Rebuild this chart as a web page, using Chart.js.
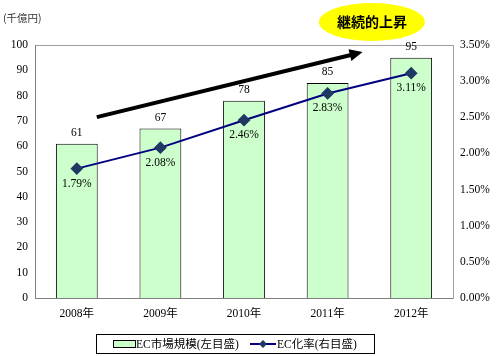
<!DOCTYPE html>
<html><head><meta charset="utf-8">
<script src="https://cdn.jsdelivr.net/npm/chart.js@4/dist/chart.umd.min.js"></script>
<style>html,body{margin:0;padding:0;background:#fff}#wrap{width:500px;height:356px;position:relative}</style>
</head><body><div id="wrap"><canvas id="c" width="500" height="356"></canvas></div>
<script>
const categories = ['2008年','2009年','2010年','2011年','2012年'];
const marketSize = [61, 67, 78, 85, 95];
const ecRate = [1.79, 2.08, 2.46, 2.83, 3.11];
const seriesNames = ['EC市場規模(左目盛)', 'EC化率(右目盛)'];
const unitLabel = '(千億円)';
const calloutText = '継続的上昇';

const FONT = "'Liberation Serif','Noto Sans CJK JP',serif";

const overlay = {
  id: 'overlay',
  afterDraw(chart) {
    const ctx = chart.ctx, x = chart.scales.x, y = chart.scales.y;
    const area = chart.chartArea;
    ctx.save();
    // plot border
    ctx.strokeStyle = '#a0a0a0'; ctx.lineWidth = 1;
    ctx.strokeRect(area.left + 0.5, area.top + 0.5, area.right - area.left, area.bottom - area.top);
    ctx.strokeStyle = '#808080';
    ctx.beginPath(); ctx.moveTo(area.left + 0.5, area.top); ctx.lineTo(area.left + 0.5, area.bottom + 0.5); ctx.lineTo(area.right, area.bottom + 0.5); ctx.stroke();

    // bar value labels
    ctx.font = '11.5px ' + FONT; ctx.fillStyle = '#000'; ctx.textAlign = 'center'; ctx.textBaseline = 'middle';
    const mBar = chart.getDatasetMeta(1);
    mBar.data.forEach((b, i) => { ctx.fillText(String(marketSize[i]), b.x, b.y - 11); });
    // rate labels
    const mLine = chart.getDatasetMeta(0);
    mLine.data.forEach((p, i) => { ctx.fillText(ecRate[i].toFixed(2) + '%', p.x, p.y + 15); });

    // unit label
    ctx.font = '10.5px "Noto Sans CJK JP",sans-serif'; ctx.textAlign = 'left';
    ctx.fillStyle = '#333';
    ctx.fillText(unitLabel, 3, 18);

    // arrow
    const ax0 = x.getPixelForValue(0) + 20, ay0 = y.getPixelForValue(71.5);
    const ax1 = x.getPixelForValue(3) + 35, ay1 = y.getPixelForValue(97.2);
    const ang = Math.atan2(ay1 - ay0, ax1 - ax0);
    ctx.strokeStyle = '#000'; ctx.lineWidth = 4; ctx.lineCap = 'butt';
    ctx.beginPath(); ctx.moveTo(ax0, ay0);
    ctx.lineTo(ax1 - 9 * Math.cos(ang), ay1 - 9 * Math.sin(ang)); ctx.stroke();
    ctx.fillStyle = '#000';
    ctx.beginPath();
    ctx.moveTo(ax1, ay1);
    ctx.lineTo(ax1 - 13 * Math.cos(ang) + 6 * Math.sin(ang), ay1 - 13 * Math.sin(ang) - 6 * Math.cos(ang));
    ctx.lineTo(ax1 - 13 * Math.cos(ang) - 6 * Math.sin(ang), ay1 - 13 * Math.sin(ang) + 6 * Math.cos(ang));
    ctx.closePath(); ctx.fill();

    // callout ellipse
    const ex = x.getPixelForValue(3.53), ey = area.top - 23;
    ctx.fillStyle = '#ffff00';
    ctx.beginPath(); ctx.ellipse(ex, ey, 53, 19, 0, 0, Math.PI * 2); ctx.fill();
    ctx.fillStyle = '#000'; ctx.font = 'bold 14px "Noto Sans CJK JP",sans-serif'; ctx.textAlign = 'center';
    ctx.fillText(calloutText, ex, ey);

    // legend
    const lx = 96, ly = 334, lw = 278, lh = 19;
    ctx.strokeStyle = '#000'; ctx.lineWidth = 1;
    ctx.strokeRect(lx + 0.5, ly + 0.5, lw, lh);
    const cy = ly + lh / 2 + 0.5;
    ctx.fillStyle = '#ccffcc'; ctx.fillRect(113.5, cy - 3.5, 22, 7);
    ctx.strokeRect(113.5, cy - 3.5, 22, 7);
    ctx.font = '11.5px ' + FONT; ctx.fillStyle = '#000'; ctx.textAlign = 'left';
    ctx.fillText(seriesNames[0], 136, cy + 1);
    ctx.strokeStyle = '#000080'; ctx.lineWidth = 2;
    ctx.beginPath(); ctx.moveTo(250, cy); ctx.lineTo(276, cy); ctx.stroke();
    ctx.fillStyle = '#1f3864';
    ctx.beginPath(); ctx.moveTo(263, cy - 4); ctx.lineTo(267, cy); ctx.lineTo(263, cy + 4); ctx.lineTo(259, cy); ctx.closePath(); ctx.fill();
    ctx.fillStyle = '#000';
    ctx.fillText(seriesNames[1], 277, cy + 1);
    ctx.restore();
  }
};

new Chart(document.getElementById('c'), {
  type: 'bar',
  data: {
    labels: categories,
    datasets: [
      { type: 'line', label: seriesNames[1], data: ecRate, yAxisID: 'y1',
        borderColor: '#000080', borderWidth: 2, pointStyle: 'rectRot', pointRadius: 5,
        pointBackgroundColor: '#1f3864', pointBorderColor: '#1f3864', tension: 0, order: 0 },
      { type: 'bar', label: seriesNames[0], data: marketSize, yAxisID: 'y',
        backgroundColor: '#ccffcc', borderColor: '#000', borderWidth: 1,
        categoryPercentage: 1.0, barPercentage: 0.5, order: 1 }
    ]
  },
  options: {
    responsive: false, animation: false,
    layout: { padding: { top: 45, left: 0, right: 0, bottom: 0 } },
    plugins: { legend: { display: false }, tooltip: { enabled: false } },
    scales: {
      x: { grid: { display: false, drawTicks: false }, border: { display: false },
        ticks: { font: { family: FONT, size: 11.5 }, color: '#000', padding: 9 },
        afterFit(s) { s.height = 58; } },
      y: { position: 'left', min: 0, max: 100, grid: { display: false, drawTicks: false }, border: { display: false },
        ticks: { stepSize: 10, font: { family: FONT, size: 11.5 }, color: '#000', padding: 7 },
        afterFit(s) { s.width = 35; } },
      y1: { position: 'right', min: 0, max: 3.5, grid: { display: false, drawTicks: false }, border: { display: false },
        ticks: { stepSize: 0.5, font: { family: FONT, size: 11.5 }, color: '#000', padding: 7,
          callback: v => v.toFixed(2) + '%' },
        afterFit(s) { s.width = 47; } }
    }
  },
  plugins: [overlay]
});
</script></body></html>
